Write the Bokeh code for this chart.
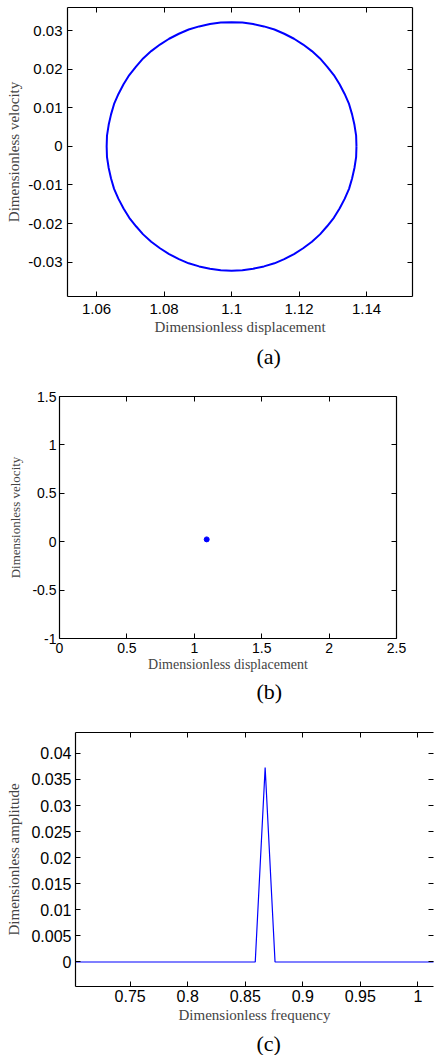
from bokeh.plotting import figure
from bokeh.models import LinearAxis, FixedTicker, Range1d, Title, CustomJSTickFormatter
from bokeh.embed import file_html
from bokeh.resources import INLINE

# ---------------- data ----------------
# (a) phase portrait (closed orbit)
a_disp = [1.1370, 1.1369, 1.1364, 1.1357, 1.1348, 1.1335, 1.1320, 1.1303, 1.1283, 1.1262,
          1.1238, 1.1212, 1.1185, 1.1156, 1.1127, 1.1096, 1.1064, 1.1032, 1.1000, 1.0968,
          1.0936, 1.0904, 1.0873, 1.0844, 1.0815, 1.0788, 1.0762, 1.0738, 1.0717, 1.0697,
          1.0680, 1.0665, 1.0652, 1.0643, 1.0636, 1.0631, 1.0630,
          1.0631, 1.0636, 1.0643, 1.0652, 1.0665, 1.0680, 1.0697, 1.0717, 1.0738, 1.0762,
          1.0788, 1.0815, 1.0844, 1.0873, 1.0904, 1.0936, 1.0968, 1.1000, 1.1032, 1.1064,
          1.1096, 1.1127, 1.1156, 1.1185, 1.1212, 1.1238, 1.1262, 1.1283, 1.1303, 1.1320,
          1.1335, 1.1348, 1.1357, 1.1364, 1.1369, 1.1370]
a_vel = [0.0, 0.0028, 0.0056, 0.0083, 0.0110, 0.0136, 0.0161, 0.0185, 0.0207, 0.0228,
         0.0247, 0.0264, 0.0279, 0.0292, 0.0303, 0.0311, 0.0317, 0.0321, 0.0322, 0.0321,
         0.0317, 0.0311, 0.0303, 0.0292, 0.0279, 0.0264, 0.0247, 0.0228, 0.0207, 0.0185,
         0.0161, 0.0136, 0.0110, 0.0083, 0.0056, 0.0028, 0.0,
         -0.0028, -0.0056, -0.0083, -0.0110, -0.0136, -0.0161, -0.0185, -0.0207, -0.0228,
         -0.0247, -0.0264, -0.0279, -0.0292, -0.0303, -0.0311, -0.0317, -0.0321, -0.0322,
         -0.0321, -0.0317, -0.0311, -0.0303, -0.0292, -0.0279, -0.0264, -0.0247, -0.0228,
         -0.0207, -0.0185, -0.0161, -0.0136, -0.0110, -0.0083, -0.0056, -0.0028, 0.0]
a_xticks = [1.06, 1.08, 1.10, 1.12, 1.14]
a_xlabels = ["1.06", "1.08", "1.1", "1.12", "1.14"]
a_yticks = [-0.03, -0.02, -0.01, 0.0, 0.01, 0.02, 0.03]
a_ylabels = ["-0.03", "-0.02", "-0.01", "0", "0.01", "0.02", "0.03"]

# (b) Poincare section
b_disp = [1.092]
b_vel = [0.024]
b_xticks = [0.0, 0.5, 1.0, 1.5, 2.0, 2.5]
b_xlabels = ["0", "0.5", "1", "1.5", "2", "2.5"]
b_yticks = [-1.0, -0.5, 0.0, 0.5, 1.0, 1.5]
b_ylabels = ["-1", "-0.5", "0", "0.5", "1", "1.5"]

# (c) amplitude spectrum
c_freq = [0.70, 0.8587, 0.8673, 0.8759, 1.02]
c_amp = [0.0, 0.0, 0.0373, 0.0, 0.0]
c_xticks = [0.75, 0.80, 0.85, 0.90, 0.95, 1.00]
c_xlabels = ["0.75", "0.8", "0.85", "0.9", "0.95", "1"]
c_yticks = [0.0, 0.005, 0.01, 0.015, 0.02, 0.025, 0.03, 0.035, 0.04]
c_ylabels = ["0", "0.005", "0.01", "0.015", "0.02", "0.025", "0.03", "0.035", "0.04"]

SANS = "Liberation Sans"
SERIF = "Liberation Serif"


def make_panel(xr, yr, xticks, xlabels, yticks, ylabels, xlabel, ylabel, caption,
               fw, fh, bl, br, bt, bb, tick_fs, xlab_fs, ylab_fs,
               y_std, y_lab_std, x_std, x_lab_std, cap_off, cap_std, right_line=True):
    p = figure(frame_width=fw, frame_height=fh, x_range=Range1d(*xr), y_range=Range1d(*yr),
               output_backend="svg", toolbar_location=None, x_axis_location=None,
               y_axis_location=None, min_border_left=bl, min_border_right=br,
               min_border_top=bt, min_border_bottom=bb)
    p.outline_line_color = None
    p.xgrid.visible = False
    p.ygrid.visible = False
    p.background_fill_color = "white"
    p.border_fill_color = "white"

    xo = {float(t): l for t, l in zip(xticks, xlabels)}
    yo = {float(t): l for t, l in zip(yticks, ylabels)}

    def style(ax, ticks, overrides, show_labels):
        ax.ticker = FixedTicker(ticks=ticks)
        ax.major_tick_in = 5
        ax.major_tick_out = 0
        ax.minor_tick_line_color = None
        ax.axis_line_color = "black"
        ax.axis_line_width = 1.2
        ax.major_tick_line_color = "black"
        ax.major_tick_line_width = 1
        if show_labels:
            ax.major_label_overrides = overrides
            ax.major_label_text_font = SANS
            ax.major_label_text_font_size = tick_fs
            ax.major_label_text_color = "black"
        else:
            ax.formatter = CustomJSTickFormatter(code="return ''")
            ax.major_label_standoff = 0

    left = LinearAxis(axis_label=ylabel)
    style(left, yticks, yo, True)
    left.major_label_standoff = y_std
    left.axis_label_standoff = y_lab_std
    left.axis_label_text_font = SERIF
    left.axis_label_text_font_size = ylab_fs
    left.axis_label_text_font_style = "normal"
    p.add_layout(left, "left")

    bottom = LinearAxis(axis_label=xlabel)
    style(bottom, xticks, xo, True)
    bottom.major_label_standoff = x_std
    bottom.axis_label_standoff = x_lab_std
    bottom.axis_label_text_font = SERIF
    bottom.axis_label_text_font_size = xlab_fs
    bottom.axis_label_text_font_style = "normal"
    p.add_layout(bottom, "below")

    top = LinearAxis()
    style(top, xticks, xo, False)
    p.add_layout(top, "above")

    right = LinearAxis()
    style(right, yticks, yo, False)
    if not right_line:
        right.axis_line_color = None
    p.add_layout(right, "right")

    t = Title(text=caption, align="left", offset=cap_off, standoff=cap_std,
              text_font=SERIF, text_font_size="22px", text_font_style="normal",
              text_color="black")
    p.add_layout(t, "below")
    return p


pa = make_panel((1.0514, 1.1536), (-0.0389, 0.0360), a_xticks, a_xlabels, a_yticks, a_ylabels,
                "Dimensionless displacement", "Dimensionless velocity", "(a)",
                fw=345, fh=289, bl=67, br=23, bt=7, bb=76, tick_fs="15px",
                xlab_fs="15px", ylab_fs="15px", y_std=5, y_lab_std=3, x_std=7, x_lab_std=2,
                cap_off=189, cap_std=8)
pa.line(a_disp, a_vel, line_color="#0000FF", line_width=2)

pb = make_panel((0.0, 2.5), (-1.0, 1.5), b_xticks, b_xlabels, b_yticks, b_ylabels,
                "Dimensionless displacement", "Dimensionless velocity", "(b)",
                fw=337, fh=242, bl=59, br=39, bt=24, bb=67, tick_fs="14px",
                xlab_fs="14px", ylab_fs="13px", y_std=3, y_lab_std=6, x_std=4, x_lab_std=1,
                cap_off=197, cap_std=5)
pb.scatter(b_disp, b_vel, size=5, fill_color="#0000FF", line_color="#0000FF")

pc = make_panel((0.7025, 1.0136), (-0.0047, 0.0440), c_xticks, c_xlabels, c_yticks, c_ylabels,
                "Dimensionless frequency", "Dimensionless amplitude", "(c)",
                fw=358, fh=254, bl=75, br=2, bt=26, bb=70, tick_fs="16px",
                xlab_fs="15px", ylab_fs="15px", y_std=4, y_lab_std=6, x_std=3, x_lab_std=2,
                cap_off=181, cap_std=6, right_line=False)
pc.line(c_freq, c_amp, line_color="#0000FF", line_width=1.2)

open("out.html", "w").write(file_html([pa, pb, pc], INLINE))
